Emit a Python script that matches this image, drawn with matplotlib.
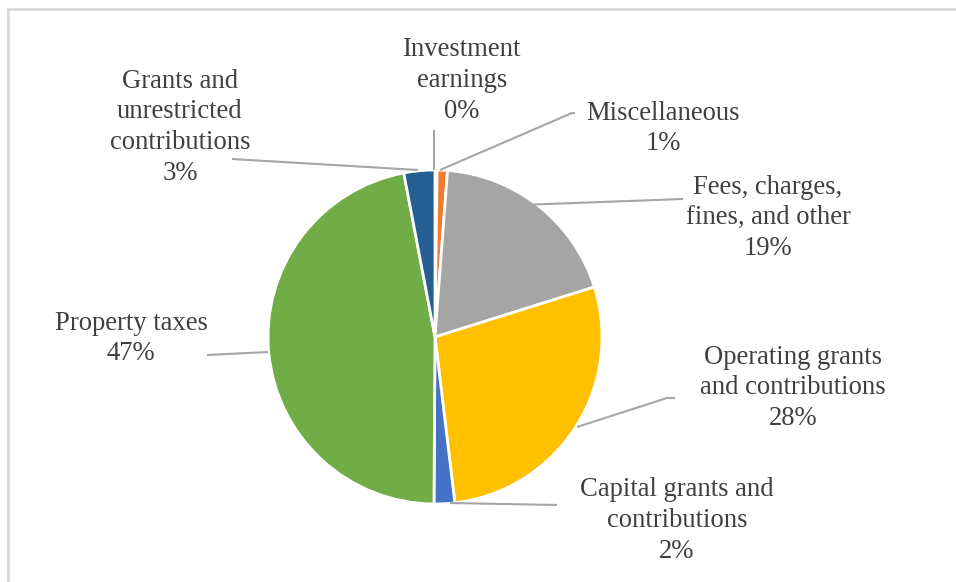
import matplotlib
matplotlib.use("Agg")
import matplotlib.pyplot as plt
from matplotlib.patches import Rectangle

categories = ["Investment earnings", "Miscellaneous", "Fees, charges, fines, and other",
              "Operating grants and contributions", "Capital grants and contributions",
              "Property taxes", "Grants and unrestricted contributions"]
values = [0.2, 1, 19, 28, 2, 47, 3]
pct_labels = ["0%", "1%", "19%", "28%", "2%", "47%", "3%"]
label_text = ["Investment\nearnings", "Miscellaneous", "Fees, charges,\nfines, and other",
              "Operating grants\nand contributions", "Capital grants and\ncontributions",
              "Property taxes", "Grants and\nunrestricted\ncontributions"]
colors = ["#5B9BD5", "#ED7D31", "#A5A5A5", "#FFC000", "#4472C4", "#70AD47", "#255E91"]

W, H = 956, 582
fig = plt.figure(figsize=(W / 100, H / 100), dpi=100)
ax = fig.add_axes([0, 0, 1, 1])
ax.set_xlim(0, W)
ax.set_ylim(0, H)
ax.set_aspect("equal")
ax.axis("off")

def Y(y):
    return H - y

# border (top and left visible)
ax.add_patch(Rectangle((8.5, -20), W + 20, Y(8.5) + 20, fill=False, edgecolor="#D9D9D9", lw=2))

cx, cy, r = 435, 337, 167
ax.pie(values, colors=colors, startangle=90, counterclock=False, center=(cx, Y(cy)), radius=r,
       wedgeprops=dict(edgecolor="white", linewidth=2), frame=True)
ax.set_xlim(0, W)
ax.set_ylim(0, H)
ax.axis("off")

# leader lines (pixel coords)
leaders = [
    [(434, 170), (434, 130)],
    [(440, 170), (572, 113), (575, 113)],
    [(520, 205), (683, 199)],
    [(577, 427), (667, 398), (675, 398)],
    [(450, 503), (557, 505)],
    [(268, 352), (207, 355)],
    [(418, 170), (232, 159)],
]
for pts in leaders:
    ax.plot([p[0] for p in pts], [Y(p[1]) for p in pts], color="#A6A6A6", lw=1.5,
            solid_capstyle="butt")

label_pos = [(462, 50), (663, 113), (768, 187), (793, 357), (677, 490), (131, 323), (180, 81)]
font = dict(family="Liberation Serif", fontsize=19.2, color="#404040")
line_h = 30.8
for txt, pct, (x, y) in zip(label_text, pct_labels, label_pos):
    lines = txt.split("\n") + [pct]
    for i, ln in enumerate(lines):
        ax.text(x, Y(y + i * line_h), ln, ha="center", va="center", **font)

fig.savefig("out.png", dpi=100, facecolor="white")
